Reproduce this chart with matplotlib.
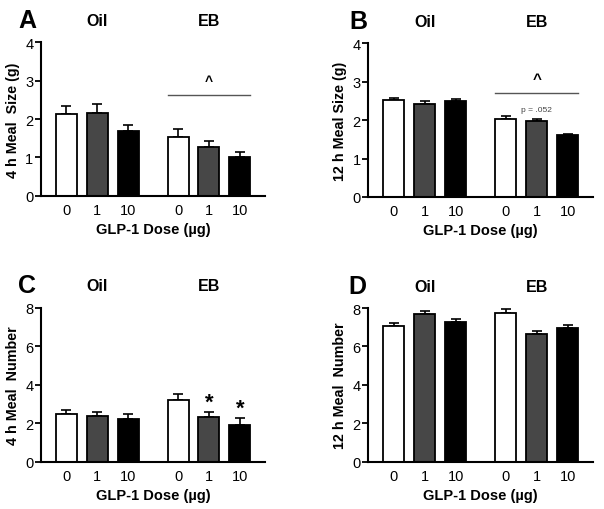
import matplotlib
matplotlib.use("Agg")
import matplotlib.pyplot as plt

plt.rcParams['font.family'] = ['Liberation Sans', 'DejaVu Sans']

# bar order: Oil 0, Oil 1, Oil 10, EB 0, EB 1, EB 10
doses = ["0", "1", "10", "0", "1", "10"]
colors = ["white", "#474747", "black", "white", "#474747", "black"]

a_mean = [2.13, 2.16, 1.69, 1.53, 1.27, 1.01]
a_err = [0.22, 0.24, 0.15, 0.22, 0.15, 0.14]
b_mean = [2.53, 2.43, 2.49, 2.04, 1.97, 1.61]
b_err = [0.05, 0.07, 0.05, 0.07, 0.07, 0.04]
c_mean = [2.49, 2.38, 2.19, 3.20, 2.30, 1.90]
c_err = [0.19, 0.19, 0.26, 0.31, 0.29, 0.34]
d_mean = [7.04, 7.67, 7.27, 7.76, 6.66, 6.96]
d_err = [0.16, 0.16, 0.17, 0.17, 0.17, 0.15]

xpos = [0, 1, 2, 3.62, 4.62, 5.62]

fig = plt.figure(figsize=(6.04, 5.10), dpi=100)


def panel(rect, letter, letter_x, mean, err, ymax, ystep, ylabel):
    ax = fig.add_axes(rect)
    ax.bar(xpos, mean, width=0.68, color=colors, edgecolor="black",
           linewidth=1.3, zorder=2)
    ax.errorbar(xpos, mean, yerr=[[0] * len(mean), err], fmt="none",
                ecolor="black", elinewidth=1.2, capsize=3.5, capthick=1.2,
                zorder=1)
    ax.set_xlim(-0.82, 6.44)
    ax.set_ylim(0, ymax)
    ax.set_yticks(range(0, ymax + 1, ystep))
    ax.set_xticks(xpos)
    ax.set_xticklabels(doses)
    for s in ["top", "right"]:
        ax.spines[s].set_visible(False)
    for s in ["left", "bottom"]:
        ax.spines[s].set_linewidth(1.5)
    ax.tick_params(axis="x", length=0, pad=5, labelsize=10.5)
    ax.tick_params(axis="y", length=4, width=1.3, pad=1.5, labelsize=10.5)
    ax.set_xlabel("GLP-1 Dose (µg)", fontsize=10.5, fontweight="bold",
                  labelpad=4)
    ax.set_ylabel(ylabel, fontsize=10.3, fontweight="bold", labelpad=4)
    ax.text(letter_x, 1.145, letter, transform=ax.transAxes, fontsize=18,
            fontweight="bold", ha="center", va="center")
    ax.text(1.0, 1.14, "Oil", transform=ax.get_xaxis_transform(),
            fontsize=11.5, fontweight="bold", ha="center", va="center")
    ax.text(4.62, 1.14, "EB", transform=ax.get_xaxis_transform(),
            fontsize=11.5, fontweight="bold", ha="center", va="center")
    return ax


ax_a = panel([0.068, 0.614, 0.371, 0.301], "A", -0.06, a_mean, a_err, 4, 1,
             "4 h Meal  Size (g)")
ax_a.plot([3.62 - 0.34, 5.62 + 0.34], [2.62, 2.62], color="#555555", lw=1)
ax_a.text(4.62, 3.0, "^", ha="center", va="center", fontsize=10,
          fontweight="bold")

ax_b = panel([0.610, 0.612, 0.372, 0.301], "B", -0.047, b_mean, b_err, 4, 1,
             "12 h Meal Size (g)")
ax_b.plot([3.62 - 0.34, 5.62 + 0.34], [2.70, 2.70], color="#555555", lw=1)
ax_b.text(4.62, 3.08, "^", ha="center", va="center", fontsize=11,
          fontweight="bold")
ax_b.text(4.62, 2.27, "p = .052", ha="center", va="center", fontsize=6,
          color="#444444")

ax_c = panel([0.068, 0.093, 0.371, 0.302], "C", -0.062, c_mean, c_err, 8, 2,
             "4 h Meal  Number")
ax_c.text(4.62, 3.1, "*", ha="center", va="center", fontsize=16,
          fontweight="bold")
ax_c.text(5.62, 2.75, "*", ha="center", va="center", fontsize=16,
          fontweight="bold")

ax_d = panel([0.610, 0.093, 0.372, 0.301], "D", -0.05, d_mean, d_err, 8, 2,
             "12 h Meal  Number")

fig.savefig("out.png", dpi=100, facecolor="white")
